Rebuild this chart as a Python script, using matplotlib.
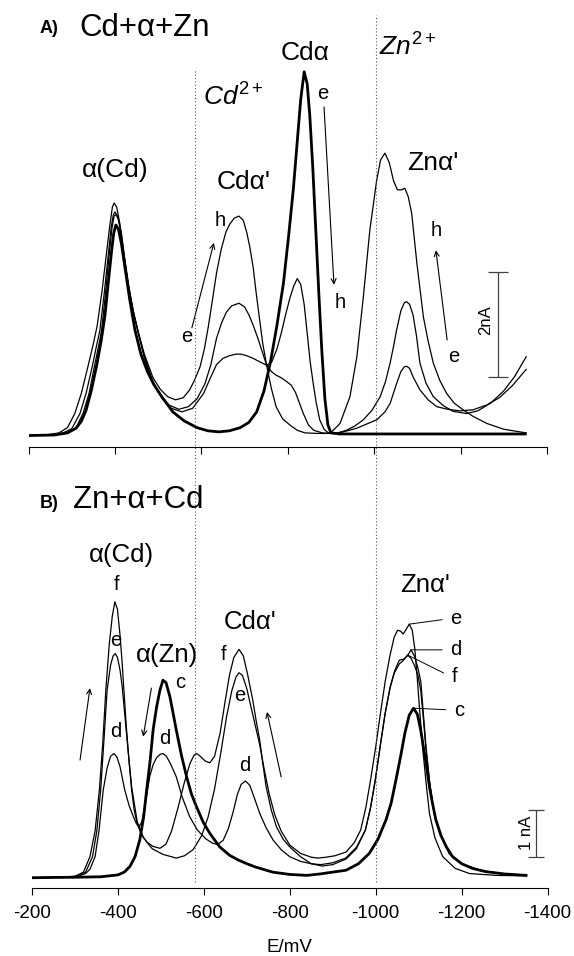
import matplotlib
matplotlib.use("Agg")
import matplotlib.pyplot as plt
import numpy as np

plt.rcParams['font.family'] = ['Liberation Sans', 'DejaVu Sans']
plt.rcParams['axes.unicode_minus'] = False
plt.rcParams['mathtext.fontset'] = 'custom'
plt.rcParams['mathtext.rm'] = 'Liberation Sans'
plt.rcParams['mathtext.it'] = 'Liberation Sans:italic'

# ---- panel A: Cd + alpha + Zn (E in mV, I in nA) ----
a_thick_E = [-200, -260, -290, -310, -322, -333, -345, -358, -368, -377,
             -385, -392, -397, -402, -408, -415, -424, -434, -446, -460,
             -475, -490, -510, -534, -560, -590, -615, -640, -665, -690,
             -710, -728, -745, -760, -775, -790, -802, -813, -822, -830,
             -838, -845, -851, -858, -865, -872, -879, -886, -893, -900,
             -920, -1350]
a_thick_I = [0.00, 0.01, 0.05, 0.14, 0.27, 0.48, 0.85, 1.35, 1.80, 2.30,
             2.95, 3.50, 3.85, 4.01, 3.93, 3.65, 3.15, 2.60, 2.02, 1.55,
             1.22, 0.97, 0.72, 0.45, 0.28, 0.15, 0.09, 0.07, 0.09, 0.15,
             0.25, 0.45, 0.85, 1.40, 2.10, 2.90, 3.80, 4.70, 5.60, 6.40,
             6.93, 6.70, 6.10, 5.10, 3.90, 2.70, 1.60, 0.70, 0.20, 0.05,
             0.03, 0.03]

a_e_E = [-200, -260, -290, -310, -326, -340, -352, -362, -369, -378,
         -386, -393, -398, -402, -408, -415, -423, -433, -443, -453,
         -468, -488, -508, -530, -555, -580, -605, -620, -635, -650,
         -665, -680, -692, -705, -720, -736, -751, -763, -775, -785,
         -795, -805, -814, -822, -830, -838, -845, -852, -859, -866,
         -874, -884, -894, -920, -960, -1006, -1025, -1037, -1052, -1062,
         -1070, -1075, -1082, -1090, -1106, -1125, -1145, -1170, -1199, -1229,
         -1260, -1290, -1320, -1352]
a_e_I = [0.00, 0.01, 0.05, 0.15, 0.42, 0.80, 1.30, 1.70, 2.00, 2.70,
         3.40, 3.95, 4.18, 4.21, 4.12, 3.85, 3.35, 2.80, 2.35, 1.98,
         1.48, 1.00, 0.72, 0.52, 0.45, 0.52, 0.80, 1.08, 1.35, 1.47,
         1.52, 1.55, 1.55, 1.52, 1.47, 1.40, 1.34, 1.40, 1.65, 1.95,
         2.30, 2.62, 2.85, 2.99, 2.88, 2.50, 1.95, 1.40, 0.99, 0.62,
         0.30, 0.12, 0.05, 0.05, 0.14, 0.30, 0.45, 0.61, 0.99, 1.22,
         1.31, 1.32, 1.28, 1.12, 0.87, 0.68, 0.55, 0.50, 0.47, 0.49,
         0.58, 0.72, 0.95, 1.26]

a_mid_E = [-200, -250, -280, -300, -319, -333, -347, -357, -365, -375,
           -384, -391, -396, -400, -406, -413, -421, -431, -442, -453,
           -468, -488, -505, -525, -548, -570, -590, -608, -622, -635,
           -647, -658, -670, -687, -700, -710, -720, -731, -742, -751,
           -762, -773, -785, -797, -808, -818, -827, -836, -848, -860,
           -880, -898, -915, -936, -955, -975, -995, -1014, -1026, -1037,
           -1045, -1052, -1062, -1070, -1075, -1082, -1090, -1098, -1106, -1120,
           -1137, -1160, -1183, -1214, -1240, -1270, -1300, -1325, -1352]
a_mid_I = [0.00, 0.01, 0.05, 0.13, 0.42, 0.80, 1.30, 1.70, 2.00, 2.70,
           3.40, 3.95, 4.20, 4.26, 4.18, 3.90, 3.40, 2.85, 2.38, 2.00,
           1.50, 1.02, 0.78, 0.58, 0.50, 0.55, 0.70, 0.98, 1.35, 1.85,
           2.15, 2.35, 2.47, 2.52, 2.45, 2.30, 2.10, 1.85, 1.57, 1.34,
           1.22, 1.15, 1.10, 1.03, 0.96, 0.82, 0.62, 0.42, 0.20, 0.10,
           0.05, 0.04, 0.05, 0.10, 0.18, 0.30, 0.48, 0.74, 1.02, 1.38,
           1.70, 2.01, 2.38, 2.53, 2.55, 2.50, 2.30, 1.90, 1.38, 1.00,
           0.74, 0.57, 0.46, 0.42, 0.47, 0.62, 0.85, 1.12, 1.50]

a_h_E = [-200, -240, -270, -290, -307, -322, -337, -350, -359, -370,
         -380, -388, -394, -398, -404, -411, -420, -430, -441, -453,
         -468, -488, -505, -522, -540, -558, -573, -585, -597, -607,
         -616, -626, -635, -646, -657, -666, -676, -687, -697, -705,
         -712, -720, -727, -735, -742, -751, -762, -773, -788, -805,
         -822, -840, -870, -898, -921, -944, -960, -975, -990, -1006,
         -1015, -1025, -1035, -1045, -1054, -1063, -1071, -1079, -1087, -1099,
         -1114, -1125, -1137, -1152, -1168, -1185, -1206, -1230, -1261, -1300,
         -1352]
a_h_I = [0.00, 0.01, 0.05, 0.15, 0.42, 0.80, 1.30, 1.75, 2.10, 2.75,
         3.45, 4.00, 4.35, 4.43, 4.35, 4.05, 3.50, 2.90, 2.40, 2.00,
         1.55, 1.10, 0.88, 0.74, 0.68, 0.72, 0.87, 1.07, 1.31, 1.65,
         2.07, 2.60, 3.09, 3.55, 3.88, 4.03, 4.14, 4.18, 4.10, 3.87,
         3.60, 3.20, 2.71, 2.20, 1.76, 1.34, 0.90, 0.55, 0.32, 0.20,
         0.10, 0.05, 0.04, 0.04, 0.23, 0.74, 1.50, 2.64, 3.91, 4.87,
         5.25, 5.38, 5.20, 4.85, 4.68, 4.68, 4.71, 4.55, 4.23, 3.28,
         2.26, 1.80, 1.38, 1.05, 0.80, 0.62, 0.49, 0.36, 0.23, 0.12,
         0.05]

# ---- panel B: Zn + alpha + Cd ----
b_c_E = [-200, -300, -360, -400, -415, -428, -440, -451, -460, -467,
         -475, -482, -490, -498, -505, -512, -521, -528, -536, -548,
         -560, -571, -583, -598, -614, -637, -660, -680, -700, -720,
         -760, -800, -840, -870, -900, -931, -960, -985, -1005, -1024,
         -1036, -1047, -1058, -1068, -1078, -1088, -1097, -1105, -1111, -1117,
         -1125, -1132, -1140, -1152, -1165, -1179, -1200, -1225, -1256, -1300,
         -1350]
b_c_I = [0.00, 0.01, 0.02, 0.06, 0.12, 0.24, 0.45, 0.81, 1.30, 1.88,
         2.50, 3.16, 3.65, 4.02, 4.23, 4.18, 3.88, 3.55, 3.16, 2.62,
         2.16, 1.80, 1.52, 1.20, 0.95, 0.66, 0.48, 0.38, 0.30, 0.23,
         0.12, 0.07, 0.05, 0.08, 0.12, 0.16, 0.30, 0.52, 0.82, 1.24,
         1.60, 2.09, 2.60, 3.10, 3.48, 3.63, 3.50, 3.15, 2.80, 2.45,
         1.95, 1.60, 1.24, 0.90, 0.65, 0.45, 0.30, 0.20, 0.13, 0.08,
         0.05]

b_d_E = [-200, -280, -310, -325, -335, -347, -356, -366, -375, -383,
         -391, -398, -405, -416, -426, -436, -443, -449, -456, -465,
         -474, -482, -490, -498, -505, -513, -522, -536, -550, -567,
         -585, -605, -620, -632, -645, -657, -668, -678, -687, -697,
         -707, -718, -730, -745, -761, -780, -800, -825, -850, -872,
         -900, -930, -955, -976, -988, -999, -1011, -1022, -1034, -1045,
         -1055, -1065, -1074, -1082, -1090, -1098, -1105, -1111, -1117, -1126,
         -1136, -1150, -1171, -1200, -1241, -1290, -1350]
b_d_I = [0.00, 0.01, 0.04, 0.09, 0.18, 0.45, 1.00, 1.88, 2.35, 2.60,
         2.66, 2.58, 2.38, 1.88, 1.55, 1.31, 1.16, 1.09, 1.20, 1.65,
         2.16, 2.42, 2.57, 2.64, 2.66, 2.60, 2.45, 2.16, 1.72, 1.31,
         1.02, 0.83, 0.74, 0.71, 0.80, 1.05, 1.40, 1.78, 2.00, 2.07,
         1.98, 1.70, 1.38, 1.07, 0.81, 0.60, 0.45, 0.35, 0.30, 0.28,
         0.32, 0.42, 0.65, 1.02, 1.50, 2.09, 2.85, 3.52, 4.10, 4.45,
         4.66, 4.68, 4.75, 4.88, 4.75, 4.50, 4.20, 3.50, 2.81, 2.00,
         1.38, 0.95, 0.52, 0.30, 0.16, 0.09, 0.05]

b_e_E = [-200, -270, -300, -325, -341, -351, -360, -368, -375, -383,
         -389, -394, -399, -405, -410, -416, -424, -432, -445, -460,
         -480, -505, -536, -555, -575, -595, -610, -625, -640, -653,
         -665, -675, -682, -690, -700, -710, -720, -730, -740, -752,
         -765, -780, -800, -825, -850, -865, -885, -905, -931, -950,
         -965, -977, -988, -1000, -1011, -1022, -1033, -1043, -1051, -1058,
         -1064, -1071, -1078, -1085, -1091, -1097, -1103, -1109, -1117, -1125,
         -1138, -1156, -1185, -1218, -1280, -1350]
b_e_I = [0.00, 0.01, 0.02, 0.12, 0.45, 1.00, 1.88, 3.00, 4.02, 4.55,
         4.75, 4.80, 4.72, 4.45, 4.10, 3.50, 2.70, 1.95, 1.20, 0.85,
         0.62, 0.50, 0.42, 0.47, 0.60, 0.90, 1.30, 1.90, 2.70, 3.45,
         4.00, 4.30, 4.39, 4.33, 4.05, 3.65, 3.25, 2.85, 2.35, 1.80,
         1.35, 1.00, 0.70, 0.52, 0.44, 0.42, 0.44, 0.47, 0.55, 0.75,
         1.02, 1.50, 2.09, 2.80, 3.52, 4.20, 4.75, 5.15, 5.30, 5.28,
         5.22, 5.32, 5.43, 5.30, 4.90, 4.24, 3.50, 2.81, 2.05, 1.38,
         0.85, 0.45, 0.20, 0.09, 0.05, 0.04]

b_f_E = [-200, -260, -300, -320, -335, -347, -357, -365, -372, -380,
         -387, -393, -399, -405, -410, -414, -420, -426, -432, -438,
         -445, -455, -468, -482, -498, -512, -525, -540, -555, -568,
         -577, -583, -592, -603, -614, -625, -638, -650, -660, -670,
         -682, -692, -702, -714, -722, -730, -738, -745, -757, -769,
         -785, -800, -825, -850, -875, -900, -931, -955, -976, -988,
         -999, -1011, -1022, -1033, -1043, -1055, -1064, -1074, -1082, -1090,
         -1098, -1105, -1111, -1117, -1126, -1136, -1150, -1171, -1200, -1241,
         -1290, -1350]
b_f_I = [0.00, 0.01, 0.03, 0.12, 0.45, 1.00, 1.88, 2.90, 4.02, 5.00,
         5.60, 5.91, 5.75, 5.20, 4.60, 4.02, 3.20, 2.50, 1.88, 1.45,
         1.16, 0.92, 0.76, 0.67, 0.63, 0.72, 1.00, 1.50, 2.05, 2.45,
         2.62, 2.66, 2.60, 2.50, 2.46, 2.60, 3.10, 3.80, 4.35, 4.72,
         4.89, 4.75, 4.35, 3.80, 3.35, 2.95, 2.40, 1.95, 1.45, 1.09,
         0.82, 0.66, 0.45, 0.30, 0.25, 0.28, 0.40, 0.62, 1.02, 1.50,
         2.09, 2.85, 3.52, 4.05, 4.38, 4.58, 4.65, 4.77, 4.70, 4.55,
         4.35, 4.00, 3.40, 2.75, 2.00, 1.38, 0.95, 0.52, 0.30, 0.16,
         0.09, 0.05]

e_ticks = [-200, -400, -600, -800, -1000, -1200, -1400]
free_ion_E = [-580, -1000]   # Cd2+ and Zn2+ reference potentials

THIN = 0.9
THICK = 2.0
BIG = 22.5
PEAK = 19
SMALL = 14.5

fig = plt.figure(figsize=(5.74, 9.56), dpi=100)
axA = fig.add_axes([0.0498, 0.5324, 0.9030, 0.4623])
axB = fig.add_axes([0.0556, 0.0708, 0.8984, 0.4375])

for ax in (axA, axB):
    ax.set_xlim(-200, -1400)
    ax.set_xticks(e_ticks)
    for s in ('top', 'left', 'right'):
        ax.spines[s].set_visible(False)
    ax.spines['bottom'].set_linewidth(0.8)
    ax.set_yticks([])
    ax.tick_params(axis='x', direction='out', length=5, width=0.8,
                   labelsize=13.5, pad=7)
    ax.patch.set_alpha(0)

axA.set_ylim(-0.219, 8.2)
axB.set_ylim(-0.227, 8.73)
axA.tick_params(axis='x', labelbottom=False)

# curves
axA.plot(a_thick_E, a_thick_I, color='k', lw=THICK)
for E, I in [(a_e_E, a_e_I), (a_mid_E, a_mid_I), (a_h_E, a_h_I)]:
    axA.plot(E, I, color='k', lw=THIN)

axB.plot(b_c_E, b_c_I, color='k', lw=THICK)
for E, I in [(b_d_E, b_d_I), (b_e_E, b_e_I), (b_f_E, b_f_I)]:
    axB.plot(E, I, color='k', lw=THIN)

# dotted reference lines running through both panels
for E, top in zip(free_ion_E, [1.956, 2.088]):
    axB.axvline(E, ymin=0.015, ymax=top, clip_on=False, color='0.35',
                lw=0.8, ls=(0, (1, 2)))


def arrow(ax, tail, head):
    ax.annotate('', xy=head, xytext=tail,
                arrowprops=dict(arrowstyle='->', lw=0.8, color='k',
                                shrinkA=0, shrinkB=0, mutation_scale=9))


# panel A labels
axA.text(-226, 7.76, 'A)', fontsize=13, fontweight='bold', ha='left', va='center')
axA.text(-317, 7.76, 'Cd+\u03b1+Zn', fontsize=BIG, ha='left', va='center')
axA.text(-840, 7.29, 'Cd\u03b1', fontsize=PEAK, ha='center', va='center')
axA.text(-604, 6.45, r'$Cd^{2+}$', fontsize=PEAK, ha='left', va='center')
axA.text(-1011, 7.40, r'$Zn^{2+}$', fontsize=PEAK, ha='left', va='center')
axA.text(-400, 5.06, '\u03b1(Cd)', fontsize=PEAK, ha='center', va='center')
axA.text(-699, 4.83, "Cd\u03b1'", fontsize=PEAK, ha='center', va='center')
axA.text(-1137, 5.19, "Zn\u03b1'", fontsize=PEAK, ha='center', va='center')

axA.text(-880, 6.52, 'e', fontsize=SMALL, ha='center', va='center')
arrow(axA, (-884, 6.26), (-907, 2.87))
axA.text(-922, 2.54, 'h', fontsize=SMALL, ha='center', va='center')
axA.text(-643, 4.10, 'h', fontsize=SMALL, ha='center', va='center')
axA.text(-567, 1.88, 'e', fontsize=SMALL, ha='center', va='center')
arrow(axA, (-578, 2.05), (-629, 3.67))
axA.text(-1143, 3.91, 'h', fontsize=SMALL, ha='center', va='center')
arrow(axA, (-1169, 1.82), (-1143, 3.53))
axA.text(-1185, 1.50, 'e', fontsize=SMALL, ha='center', va='center')

# 2 nA scale bar
axA.errorbar([-1287], [2.12], yerr=[1.0], color='0.25', lw=0.9,
             capsize=7, capthick=0.9)
axA.text(-1257, 2.2, '2nA', fontsize=12, rotation=90, ha='center', va='center')

# panel B labels
axB.text(-219, 8.02, 'B)', fontsize=13, fontweight='bold', ha='left', va='center')
axB.text(-295, 8.09, 'Zn+\u03b1+Cd', fontsize=BIG, ha='left', va='center')
axB.text(-409, 6.91, '\u03b1(Cd)', fontsize=18.5, ha='center', va='center')
axB.text(-514, 4.77, '\u03b1(Zn)', fontsize=18.5, ha='center', va='center')
axB.text(-707, 5.48, "Cd\u03b1'", fontsize=18.5, ha='center', va='center')
axB.text(-1115, 6.27, "Zn\u03b1'", fontsize=18.5, ha='center', va='center')

for s, E, I in [('f', -397, 6.27), ('e', -395, 5.09), ('d', -395, 3.13),
                ('c', -544, 4.17), ('d', -509, 2.99),
                ('f', -645, 4.77), ('e', -683, 3.91), ('d', -695, 2.40)]:
    axB.text(E, I, s, fontsize=SMALL, ha='center', va='center')

arrow(axB, (-312, 2.52), (-335, 4.06))
arrow(axB, (-478, 4.06), (-459, 3.02))
arrow(axB, (-780, 2.16), (-747, 3.55))

# leader lines from the Zn-alpha' maxima to their labels
zn_window = (-1040, -1120)
for s, E, I, pos in [('e', b_e_E, b_e_I, (-1187, 5.55)),
                     ('d', b_d_E, b_d_I, (-1187, 4.88)),
                     ('f', b_f_E, b_f_I, (-1183, 4.30)),
                     ('c', b_c_E, b_c_I, (-1194, 3.59))]:
    E = np.array(E)
    I = np.array(I)
    m = (E <= zn_window[0]) & (E >= zn_window[1])
    k = np.argmax(I[m])
    peak = (E[m][k], I[m][k])
    axB.annotate(s, xy=peak, xytext=pos, fontsize=SMALL, ha='center', va='center',
                 arrowprops=dict(arrowstyle='-', lw=0.7, color='k',
                                 relpos=(0, 0.5), shrinkA=4, shrinkB=0))

# 1 nA scale bar
axB.errorbar([-1372], [0.95], yerr=[0.5], color='0.25', lw=0.9,
             capsize=6, capthick=0.9)
axB.text(-1351, 0.96, '1 nA', fontsize=12, rotation=90, ha='center', va='center')

axB.set_xlabel('E/mV', fontsize=13.5, labelpad=12)

fig.savefig('out.png', dpi=100)
